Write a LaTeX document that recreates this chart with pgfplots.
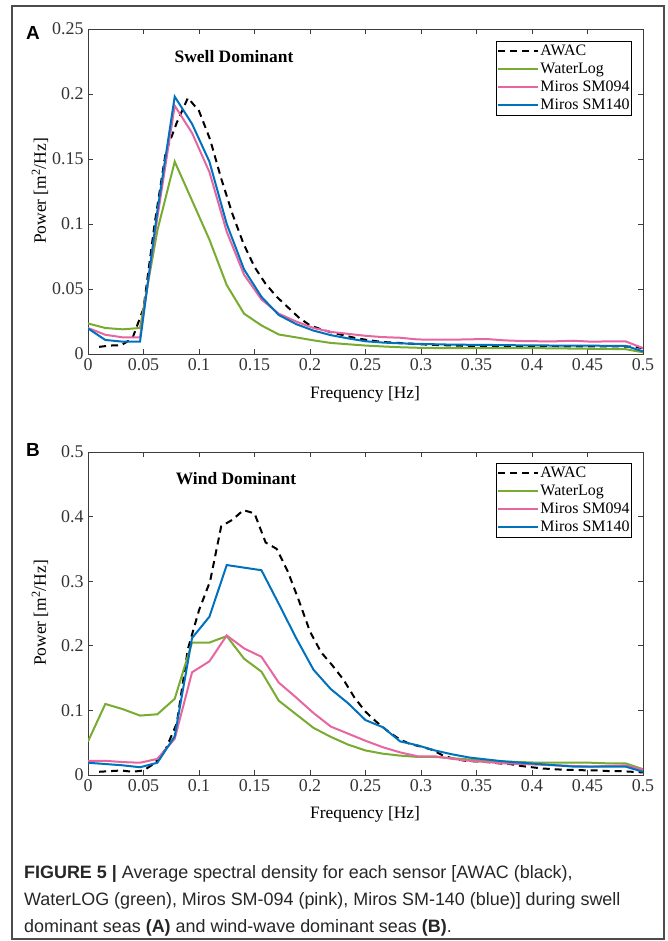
\documentclass[border=0pt]{standalone}
\usepackage{pgfplots}
\usepackage{pgfplotstable}
\pgfplotsset{compat=1.18}
\usepackage{fontspec}
\setmainfont{Liberation Serif}
\newfontfamily\capfont{Liberation Sans}

\definecolor{mgreen}{RGB}{119,172,48}
\definecolor{mpink}{RGB}{231,101,160}
\definecolor{mblue}{RGB}{0,114,189}
\definecolor{axgray}{RGB}{60,60,60}

% Sensor spectra (k/64 Hz resolution)
\pgfplotstableread{
f         gA      pA      bA      gB     pB     bB
0         0.0235  0.0200  0.0197  0.052  0.022  0.019
0.015625  0.0200  0.0148  0.0108  0.110  0.022  0.017
0.03125   0.0190  0.0128  0.0095  0.102  0.020  0.015
0.046875  0.0200  0.0128  0.0095  0.092  0.019  0.012
0.0625    0.0950  0.1050  0.1100  0.094  0.025  0.019
0.078125  0.1480  0.1910  0.1980  0.118  0.056  0.060
0.09375   0.1180  0.1700  0.1770  0.205  0.159  0.212
0.109375  0.0880  0.1400  0.1480  0.205  0.176  0.245
0.125     0.0530  0.0940  0.1000  0.215  0.216  0.325
0.140625  0.0310  0.0610  0.0650  0.180  0.196  0.321
0.15625   0.0220  0.0420  0.0440  0.160  0.183  0.317
0.171875  0.0150  0.0310  0.0300  0.115  0.143  0.265
0.1875    0.0128  0.0250  0.0230  0.094  0.120  0.212
0.203125  0.0105  0.0200  0.0180  0.073  0.096  0.163
0.21875   0.0085  0.0170  0.0145  0.059  0.075  0.133
0.234375  0.0075  0.0155  0.0120  0.047  0.064  0.111
0.25      0.0065  0.0140  0.0098  0.038  0.053  0.085
0.265625  0.0058  0.0130  0.0088  0.033  0.043  0.074
0.28125   0.0052  0.0125  0.0082  0.030  0.035  0.052
0.296875  0.0048  0.0112  0.0078  0.028  0.029  0.046
0.3125    0.0046  0.0110  0.0075  0.028  0.029  0.038
0.328125  0.0045  0.0110  0.0072  0.026  0.025  0.032
0.34375   0.0045  0.0113  0.0071  0.024  0.022  0.027
0.359375  0.0045  0.0115  0.0070  0.022  0.020  0.024
0.375     0.0045  0.0105  0.0068  0.021  0.018  0.021
0.390625  0.0045  0.0100  0.0067  0.020  0.017  0.019
0.40625   0.0045  0.0098  0.0066  0.019  0.016  0.017
0.421875  0.0043  0.0098  0.0065  0.019  0.015  0.015
0.4375    0.0042  0.0102  0.0064  0.019  0.014  0.013
0.453125  0.0040  0.0095  0.0064  0.019  0.013  0.013
0.46875   0.0039  0.0097  0.0063  0.018  0.014  0.013
0.484375  0.0037  0.0097  0.0063  0.018  0.015  0.013
0.5       0.0013  0.0045  0.0020  0.009  0.008  0.005
}\sensors

% AWAC spectra (0.01 Hz resolution)
\pgfplotstableread{
f     a       b
0.01  0.0055  0.005
0.02  0.0065  0.006
0.03  0.0068  0.007
0.04  0.0120  0.005
0.05  0.0350  0.007
0.06  0.1000  0.018
0.07  0.1550  0.040
0.08  0.1780  0.080
0.09  0.1970  0.195
0.10  0.1870  0.255
0.11  0.1650  0.300
0.12  0.1350  0.385
0.13  0.1080  0.395
0.14  0.0850  0.410
0.15  0.0670  0.405
0.16  0.0540  0.360
0.17  0.0440  0.350
0.18  0.0360  0.315
0.19  0.0280  0.270
0.20  0.0220  0.222
0.21  0.0190  0.190
0.22  0.0165  0.170
0.23  0.0145  0.148
0.24  0.0125  0.120
0.25  0.0110  0.098
0.26  0.0098  0.082
0.27  0.0090  0.068
0.28  0.0085  0.056
0.29  0.0080  0.048
0.30  0.0075  0.044
0.31  0.0070  0.039
0.32  0.0068  0.030
0.33  0.0065  0.025
0.34  0.0063  0.022
0.35  0.0062  0.021
0.36  0.0062  0.020
0.37  0.0061  0.018
0.38  0.0061  0.017
0.39  0.0060  0.014
0.40  0.0060  0.012
0.41  0.0060  0.010
0.42  0.0060  0.009
0.43  0.0059  0.008
0.44  0.0059  0.008
0.45  0.0059  0.007
0.46  0.0058  0.007
0.47  0.0058  0.006
0.48  0.0058  0.006
0.49  0.0057  0.005
0.50  0.0045  0.004
}\awac

\pgfplotsset{
  myaxis/.style={
    scale only axis, width=555bp,
    xmin=0, xmax=0.5, ymin=0,
    xtick={0,0.05,0.1,0.15,0.2,0.25,0.3,0.35,0.4,0.45,0.5},
    xticklabels={0,0.05,0.1,0.15,0.2,0.25,0.3,0.35,0.4,0.45,0.5},
    tick align=inside, major tick length=5bp,
    axis line style={draw=axgray, line width=0.8bp},
    every tick/.style={draw=axgray, line width=0.8bp},
    ticklabel style={font=\fontsize{18}{20}\selectfont, text=black!80},
    xticklabel style={yshift=-1bp},
    yticklabel style={xshift=-1bp},
    legend cell align=left,
    legend image code/.code={\draw[##1] (0bp,0bp) -- (40bp,0bp);},
    legend style={draw=black, line width=0.8bp, inner xsep=1bp, inner ysep=1.5bp,
      font=\fontsize{16}{18}\selectfont, row sep=1bp, column sep=0bp,
      nodes={inner xsep=1bp, inner ysep=0.5bp, text height=12bp, text depth=4bp},
      anchor=north east},
    clip=true,
  },
  awacline/.style={black, line width=2bp, dash pattern=on 7bp off 5bp},
  gline/.style={mgreen, line width=2bp},
  pline/.style={mpink, line width=2bp},
  bline/.style={mblue, line width=2bp},
}

\begin{document}
\begin{tikzpicture}
\useasboundingbox (0bp,0bp) rectangle (668bp,-941bp);
\draw[draw=black!70, line width=1.2bp] (12bp,-6bp) rectangle (664bp,-939bp);

% Panel A
\begin{axis}[myaxis, at={(88bp,-354bp)}, anchor=south west, height=325bp,
  ymax=0.25,
  ytick={0,0.05,0.1,0.15,0.2,0.25},
  yticklabels={0,0.05,0.1,0.15,0.2,0.25},
  legend style={at={(0.980,0.963)}}]
\addplot[awacline] table[x=f, y=a] {\awac};
\addplot[gline] table[x=f, y=gA] {\sensors};
\addplot[pline] table[x=f, y=pA] {\sensors};
\addplot[bline] table[x=f, y=bA] {\sensors};
\legend{AWAC, WaterLog, Miros SM094, Miros SM140}
\end{axis}

% Panel B
\begin{axis}[myaxis, at={(88bp,-775bp)}, anchor=south west, height=323bp,
  ymax=0.5,
  ytick={0,0.1,0.2,0.3,0.4,0.5},
  yticklabels={0,0.1,0.2,0.3,0.4,0.5},
  legend style={at={(0.980,0.966)}}]
\addplot[awacline] table[x=f, y=b] {\awac};
\addplot[gline] table[x=f, y=gB] {\sensors};
\addplot[pline] table[x=f, y=pB] {\sensors};
\addplot[bline] table[x=f, y=bB] {\sensors};
\legend{AWAC, WaterLog, Miros SM094, Miros SM140}
\end{axis}

% titles and labels
\node[font=\fontsize{17.5}{20}\selectfont\bfseries] at (234bp,-57bp) {Swell Dominant};
\node[font=\fontsize{17.5}{20}\selectfont\bfseries] at (236bp,-479bp) {Wind Dominant};
\node[font=\capfont\fontsize{19}{20}\selectfont\bfseries] at (33bp,-33bp) {A};
\node[font=\capfont\fontsize{19}{20}\selectfont\bfseries] at (33bp,-450bp) {B};
\node[font=\fontsize{17.5}{20}\selectfont, rotate=90] at (40bp,-191bp) {Power [m\textsuperscript{2}/Hz]};
\node[font=\fontsize{17.5}{20}\selectfont, rotate=90] at (40bp,-613bp) {Power [m\textsuperscript{2}/Hz]};
\node[font=\fontsize{17.5}{20}\selectfont] at (365bp,-394bp) {Frequency [Hz]};
\node[font=\fontsize{17.5}{20}\selectfont] at (365bp,-814bp) {Frequency [Hz]};

% caption
\begin{scope}[every node/.style={anchor=base west, inner sep=0pt, font=\capfont\fontsize{18}{22}\selectfont, text=black!85}]
\node at (24bp,-878bp) {\textbf{FIGURE 5 |} Average spectral density for each sensor [AWAC (black),};
\node at (24bp,-905bp) {WaterLOG (green), Miros SM-094 (pink), Miros SM-140 (blue)] during swell};
\node at (24bp,-932bp) {dominant seas \textbf{(A)} and wind-wave dominant seas \textbf{(B)}.};
\end{scope}
\end{tikzpicture}
\end{document}
